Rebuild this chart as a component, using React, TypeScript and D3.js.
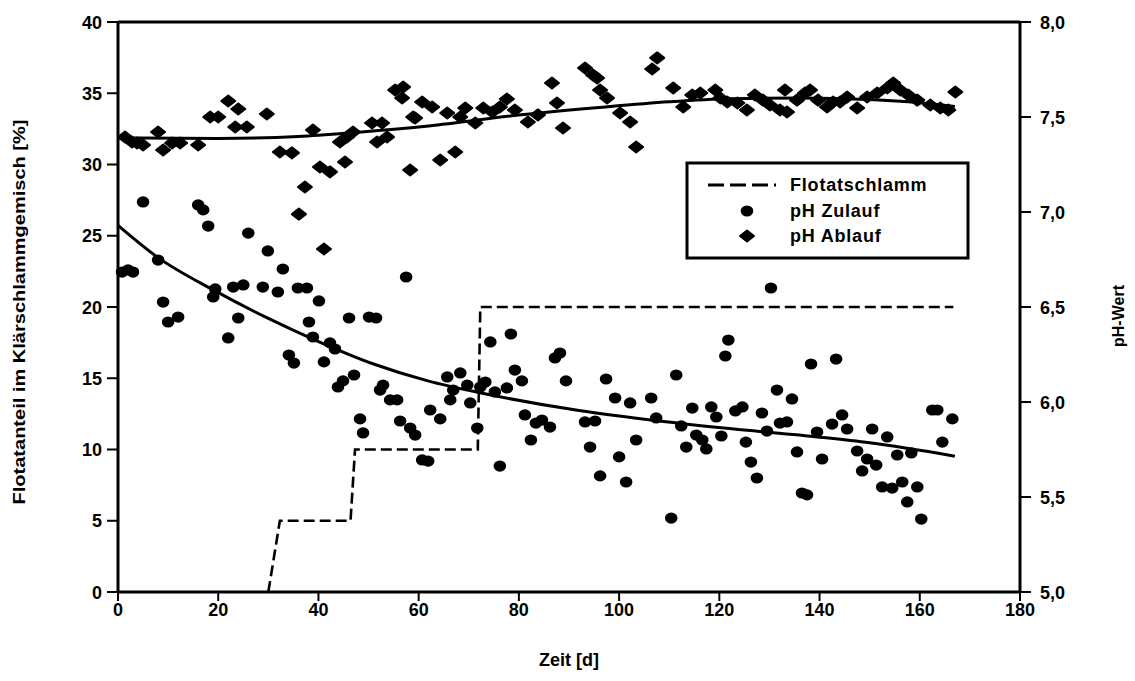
import React from "react";
import * as d3 from "d3";

// ---- data ----
const xTicks = [0, 20, 40, 60, 80, 100, 120, 140, 160, 180];
const leftTicks = [0, 5, 10, 15, 20, 25, 30, 35, 40];
const rightTicks = [5.0, 5.5, 6.0, 6.5, 7.0, 7.5, 8.0];

// Flotatschlamm share [%] (step line)
const flotatDays = [30, 32.3, 46.4, 47.3, 71.8, 72.3, 166.7];
const flotatShare = [0, 5, 5, 10, 10, 20, 20];

// pH Zulauf (circles): [day, pH]
const zulauf: [number, number][] = [
  [0.8, 6.684], [2.0, 6.695], [3.0, 6.684], [5.0, 7.053], [8.0, 6.747], [9.0, 6.526],
  [10.0, 6.421], [12.0, 6.447], [16.0, 7.037], [17.0, 7.011], [18.0, 6.926], [19.0, 6.553],
  [19.4, 6.595], [22.0, 6.337], [23.0, 6.605], [25.0, 6.616], [24.0, 6.442], [26.0, 6.889],
  [28.9, 6.605], [29.9, 6.795], [31.9, 6.579], [32.9, 6.7], [34.1, 6.247], [35.1, 6.205],
  [35.9, 6.6], [37.7, 6.6], [38.1, 6.421], [38.9, 6.342], [40.1, 6.532], [41.1, 6.211],
  [42.3, 6.311], [43.3, 6.279], [43.9, 6.079], [44.9, 6.111], [46.1, 6.442], [47.1, 6.142],
  [48.3, 5.911], [48.9, 5.837], [50.1, 6.447], [51.5, 6.442], [52.3, 6.063], [52.9, 6.089],
  [54.3, 6.011], [55.7, 6.011], [56.3, 5.9], [57.5, 6.658], [58.3, 5.863], [59.3, 5.826],
  [60.7, 5.695], [61.9, 5.689], [62.3, 5.958], [64.3, 5.911], [65.7, 6.132], [66.3, 6.011],
  [66.9, 6.063], [68.3, 6.153], [69.7, 6.089], [70.3, 5.995], [71.7, 5.863], [72.3, 6.079],
  [73.3, 6.105], [74.3, 6.316], [75.2, 6.053], [76.2, 5.663], [77.6, 6.074], [78.4, 6.358],
  [79.2, 6.168], [80.6, 6.111], [81.2, 5.932], [82.4, 5.8], [83.4, 5.889], [84.6, 5.905],
  [86.2, 5.868], [87.2, 6.232], [88.2, 6.258], [89.4, 6.111], [93.2, 5.895], [94.2, 5.763],
  [95.2, 5.9], [96.2, 5.611], [97.4, 6.121], [99.2, 6.021], [100.0, 5.711], [101.4, 5.579],
  [102.2, 5.995], [103.4, 5.8], [106.4, 6.021], [107.4, 5.916], [110.4, 5.389], [111.4, 6.142],
  [112.4, 5.874], [113.4, 5.763], [114.6, 5.968], [115.4, 5.826], [116.6, 5.8], [117.4, 5.753],
  [118.4, 5.974], [119.4, 5.921], [120.4, 5.821], [121.2, 6.242], [121.8, 6.326], [123.2, 5.953],
  [124.6, 5.974], [125.3, 5.789], [126.3, 5.684], [127.5, 5.6], [128.5, 5.942], [129.5, 5.847],
  [130.3, 6.6], [131.5, 6.063], [132.1, 5.889], [133.5, 5.895], [134.5, 6.016], [135.5, 5.737],
  [136.5, 5.521], [137.5, 5.511], [138.3, 6.2], [139.5, 5.842], [140.5, 5.7], [142.5, 5.884],
  [143.3, 6.226], [144.5, 5.932], [145.5, 5.858], [147.5, 5.742], [148.5, 5.637], [149.5, 5.7],
  [150.5, 5.858], [151.3, 5.668], [152.5, 5.553], [153.5, 5.816], [154.5, 5.547], [155.5, 5.721],
  [156.5, 5.579], [157.5, 5.474], [158.3, 5.732], [159.5, 5.553], [160.3, 5.384], [162.5, 5.958],
  [163.5, 5.958], [164.5, 5.789], [166.5, 5.911],
];

// pH Ablauf (diamonds): [day, pH]
const ablauf: [number, number][] = [
  [1.4, 7.395], [2.8, 7.368], [3.8, 7.363], [5.0, 7.353], [8.0, 7.421], [9.0, 7.326],
  [10.8, 7.363], [12.4, 7.363], [16.0, 7.353], [18.4, 7.5], [20.0, 7.5], [22.0, 7.584],
  [24.0, 7.542], [23.4, 7.447], [25.7, 7.447], [29.7, 7.516], [32.3, 7.316], [34.7, 7.311],
  [37.3, 7.132], [36.1, 6.989], [38.9, 7.432], [40.3, 7.237], [42.3, 7.211], [41.1, 6.805],
  [44.3, 7.368], [45.7, 7.395], [45.3, 7.263], [46.9, 7.421], [50.7, 7.468], [52.7, 7.468],
  [51.7, 7.368], [53.7, 7.395], [55.3, 7.642], [56.9, 7.658], [56.7, 7.6], [58.3, 7.221],
  [58.9, 7.5], [60.7, 7.579], [62.7, 7.553], [59.3, 7.495], [64.3, 7.274], [67.3, 7.316],
  [65.7, 7.521], [69.3, 7.547], [68.3, 7.5], [71.3, 7.468], [72.9, 7.547], [74.7, 7.526],
  [77.6, 7.595], [76.2, 7.553], [79.2, 7.537], [81.8, 7.474], [83.8, 7.511], [86.6, 7.679],
  [87.6, 7.574], [88.8, 7.442], [93.2, 7.758], [94.8, 7.721], [95.6, 7.705], [96.2, 7.642],
  [97.6, 7.6], [100.2, 7.521], [102.2, 7.474], [103.4, 7.342], [107.6, 7.811], [106.6, 7.753],
  [110.8, 7.653], [112.8, 7.553], [114.6, 7.616], [116.2, 7.626], [119.2, 7.642], [120.2, 7.6],
  [121.6, 7.579], [123.6, 7.574], [125.5, 7.537], [127.1, 7.616], [128.7, 7.589], [130.1, 7.563],
  [132.1, 7.537], [133.5, 7.526], [133.1, 7.642], [135.5, 7.589], [137.1, 7.626], [138.1, 7.642],
  [139.7, 7.589], [141.5, 7.553], [142.7, 7.579], [144.1, 7.579], [145.5, 7.605], [147.5, 7.547],
  [149.5, 7.605], [151.5, 7.626], [153.5, 7.653], [154.7, 7.679], [156.1, 7.642], [157.7, 7.616],
  [159.5, 7.589], [162.1, 7.563], [164.1, 7.547], [165.7, 7.537], [167.1, 7.632],
];

// fitted trend curves: [day, pH]
const zulaufFit: [number, number][] = [
  [0, 6.93], [8, 6.76], [19, 6.59], [30, 6.44], [39, 6.33], [51, 6.2], [62, 6.11],
  [72, 6.05], [92, 5.955], [108, 5.9], [122, 5.86], [140, 5.815], [150, 5.785], [167, 5.715],
];
const ablaufFit: [number, number][] = [
  [0, 7.39], [20, 7.387], [36, 7.397], [48, 7.42], [62, 7.453], [80, 7.51], [96, 7.55],
  [110, 7.58], [122, 7.596], [136, 7.6], [150, 7.592], [160, 7.575], [167, 7.555],
];

const legendItems = ["Flotatschlamm", "pH Zulauf", "pH Ablauf"];

// ---- layout ----
const W = 1135;
const H = 681;
const X0 = 118, X1 = 1020, YT = 22, YB = 592;
const FONT = "'Liberation Sans', Arial, sans-serif";

const x = d3.scaleLinear().domain([0, 180]).range([X0, X1]);
const yL = d3.scaleLinear().domain([0, 40]).range([YB, YT]);
const yR = d3.scaleLinear().domain([5, 8]).range([YB, YT]);

const diamond = "M0,-5.5 L7,0 L0,5.5 L-7,0 Z";

export default function App() {
  const fitLine = d3
    .line<[number, number]>()
    .x((d) => x(d[0]))
    .y((d) => yR(d[1]))
    .curve(d3.curveMonotoneX);
  const stepPts: [number, number][] = flotatDays.map((d, i) => [d, flotatShare[i]]);
  const stepLine = d3
    .line<[number, number]>()
    .x((d) => x(d[0]))
    .y((d) => yL(d[1]));

  const legX = 687, legY = 163, legW = 281, legH = 95;

  return (
    <svg
      width={W}
      height={H}
      style={{ position: "absolute", left: 0, top: 0, background: "#fff" }}
      fontFamily={FONT}
      fontWeight="bold"
    >
      <rect x={0} y={0} width={W} height={H} fill="#fff" />

      {/* fit curves */}
      <path d={fitLine(zulaufFit) || ""} fill="none" stroke="#000" strokeWidth={3} />
      <path d={fitLine(ablaufFit) || ""} fill="none" stroke="#000" strokeWidth={3} />

      {/* step line */}
      <path
        d={stepLine(stepPts) || ""}
        fill="none"
        stroke="#000"
        strokeWidth={2.6}
        strokeDasharray="11,5"
      />

      {/* points */}
      {zulauf.map((d, i) => (
        <ellipse key={"z" + i} cx={x(d[0])} cy={yR(d[1])} rx={6.3} ry={5.6} fill="#000" />
      ))}
      {ablauf.map((d, i) => (
        <path
          key={"a" + i}
          d={diamond}
          transform={`translate(${x(d[0])},${yR(d[1])})`}
          fill="#000"
          stroke="#000"
          strokeWidth={2}
          strokeLinejoin="round"
        />
      ))}

      {/* axes frame */}
      <line x1={X0} x2={X1} y1={YB} y2={YB} stroke="#000" strokeWidth={3} />
      <line x1={X0} x2={X1} y1={YT} y2={YT} stroke="#000" strokeWidth={3} />
      <line x1={X0} x2={X0} y1={YT} y2={YB} stroke="#000" strokeWidth={3} />
      <line x1={X1} x2={X1} y1={YT} y2={YB} stroke="#000" strokeWidth={3} />

      {/* x ticks */}
      {xTicks.map((t) => (
        <g key={"xt" + t}>
          <line x1={x(t)} x2={x(t)} y1={YB} y2={YB + 9} stroke="#000" strokeWidth={2} />
          <text x={x(t)} y={616} textAnchor="middle" fontSize={18}>
            {t}
          </text>
        </g>
      ))}
      {/* left ticks */}
      {leftTicks.map((t) => (
        <g key={"lt" + t}>
          <line x1={X0 - 11} x2={X0} y1={yL(t)} y2={yL(t)} stroke="#000" strokeWidth={2} />
          <text x={102} y={yL(t) + 6.5} textAnchor="end" fontSize={18}>
            {t}
          </text>
        </g>
      ))}
      {/* right ticks */}
      {rightTicks.map((t) => (
        <g key={"rt" + t}>
          <line x1={X1} x2={X1 + 11} y1={yR(t)} y2={yR(t)} stroke="#000" strokeWidth={2} />
          <text x={1040} y={yR(t) + 6.5} textAnchor="start" fontSize={18}>
            {t.toFixed(1).replace(".", ",")}
          </text>
        </g>
      ))}

      {/* axis titles */}
      <text x={569} y={666} textAnchor="middle" fontSize={18}>
        Zeit [d]
      </text>
      <text
        transform="translate(25,312) rotate(-90)"
        textAnchor="middle"
        fontSize={16}
        textLength={385}
        lengthAdjust="spacingAndGlyphs"
      >
        Flotatanteil im Klärschlammgemisch [%]
      </text>
      <text transform="translate(1124,316) rotate(-90)" textAnchor="middle" fontSize={16}>
        pH-Wert
      </text>

      {/* legend */}
      <rect x={legX} y={legY} width={legW} height={legH} fill="#fff" stroke="#000" strokeWidth={3} />
      <line
        x1={708}
        x2={776}
        y1={185}
        y2={185}
        stroke="#000"
        strokeWidth={3}
        strokeDasharray="16,6"
      />
      <ellipse cx={747} cy={211} rx={6.3} ry={5.6} fill="#000" />
      <path
        d={diamond}
        transform="translate(747,236)"
        fill="#000"
        stroke="#000"
        strokeWidth={2}
        strokeLinejoin="round"
      />
      {legendItems.map((s, i) => (
        <text key={s} x={790} y={191 + i * 25.5} fontSize={18} letterSpacing={0.8}>
          {s}
        </text>
      ))}
    </svg>
  );
}
